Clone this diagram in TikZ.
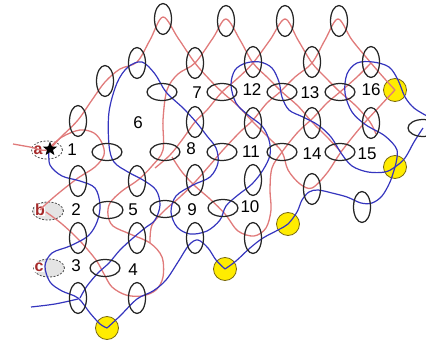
\documentclass[tikz,border=0pt]{standalone}
\usepackage{fontspec}
\setmainfont{Liberation Sans}
\usetikzlibrary{shapes.geometric}
\definecolor{thread}{HTML}{E07A7A}
\definecolor{newthread}{HTML}{3535BE}
\definecolor{bead}{HTML}{262626}
\definecolor{gold}{HTML}{FFEC00}
\definecolor{goldline}{HTML}{7A6A10}
\definecolor{tag}{HTML}{A52A2A}
\definecolor{shade}{HTML}{E4E4E4}
\tikzset{
  vbead/.style={ellipse, draw=bead, line width=1.25pt, minimum width=17pt, minimum height=31pt, inner sep=0pt},
  hbead/.style={ellipse, draw=bead, line width=1.25pt, minimum width=30pt, minimum height=17pt, inner sep=0pt},
  ybead/.style={circle, draw=goldline, fill=gold, line width=0.8pt, minimum size=23pt, inner sep=0pt},
  slot/.style={ellipse, draw=bead!80, dash pattern=on 2pt off 1.5pt, line width=0.8pt, fill=shade, minimum width=31pt, minimum height=18pt, inner sep=0pt},
  rline/.style={draw=thread, line width=1.3pt},
  bline/.style={draw=newthread, line width=1.2pt},
  num/.style={text=black, font=\fontsize{17}{19}\selectfont, inner sep=0pt},
  tagl/.style={text=tag, font=\bfseries\fontsize{16}{18}\selectfont, inner sep=0.6pt, fill=white}
}

\begin{document}
\begin{tikzpicture}[x=1pt, y=-1pt]
  \useasboundingbox (0,0) rectangle (426,342);

  % empty slots
  \node[slot, fill=white] (sa) at (47,150) {};
  \node[slot] (sb) at (48,211) {};
  \node[slot] (sc) at (49,268) {};
  \node[tagl] (la) at (38,150) {a};
  \node[tagl] (lb) at (40,210) {b};
  \node[tagl] (lc) at (39,267) {c};

  % yellow beads
  \node[ybead] (y1) at (395,90) {};
  \node[ybead] (y2) at (395,167) {};
  \node[ybead] (y3) at (288,224) {};
  \node[ybead] (y4) at (225,269) {};
  \node[ybead] (y5) at (107,328) {};

  % old thread
  \draw[rline] plot[smooth, tension=0.55] coordinates {(13,144) (30,147) (47,150) (62,136) (78,120) (92,100) (105,82) (120,69) (137,62) (150,40) (163,17) (178,38) (195,63) (210,80) (222,92) (238,106) (253,122) (268,137) (282,152) (288,170) (300,184) (312,188) (327,173) (341,152) (360,128) (380,106) (y1.center)};
  \draw[rline] plot[smooth, tension=0.55] coordinates {(46,212) (62,224) (80,241) (96,260) (104,274) (112,287) (126,295) (142,296) (156,290) (163,277) (162,257) (150,243) (130,234) (113,226) (108,215) (110,203) (122,191) (138,180) (152,166) (163,150) (163,120) (167,90) (178,74) (195,63) (213,38) (226,19) (240,40) (253,63) (268,78) (282,92) (298,106) (312,122) (327,137) (341,152)};
  \draw[rline] plot[smooth, tension=0.55] coordinates {(155,168) (170,155) (182,140) (195,122) (207,110) (222,92) (238,78) (253,63) (270,40) (285,19) (298,40) (312,63) (326,78) (340,92) (356,106) (370,122) (376,134)};
  \draw[rline] plot[smooth, tension=0.55] coordinates {(150,243) (152,225) (165,210) (180,197) (195,182) (210,165) (223,150) (240,132) (253,120) (267,103) (280,92) (295,77) (312,63) (325,40) (338,19) (352,40) (371,63) (384,78) (y1.center)};
  \draw[rline] plot[smooth, tension=0.55] coordinates {(371,63) (357,77) (340,92) (327,103) (313,118) (298,132) (282,152) (272,168) (270,190) (271,210) (266,228) (254,236) (238,231) (225,214) (210,199) (195,186) (182,172) (172,157)};
  \draw[rline] plot[smooth, tension=0.55] coordinates {(47,150) (62,137) (80,130) (94,133) (102,143) (104,155) (95,167) (78,178) (60,192) (46,204) (40,210)};

  % new thread
  \draw[bline] plot[smooth, tension=0.55] coordinates {(423,128) (414,142) (405,158) (y2.center) (385,172) (368,172) (352,166) (341,153) (331,137) (318,125) (303,117) (289,110) (282,97) (279,82) (272,68) (260,62) (246,63) (235,70) (231,85) (236,103) (248,115) (262,126) (269,140) (270,155) (263,170) (252,184) (238,195) (226,206) (220,220) (207,231) (190,234) (177,227) (171,212) (176,196) (193,185) (210,177) (218,163) (216,148) (207,136) (196,122) (183,108) (166,92) (155,74) (142,62) (128,67) (117,83) (109,112) (109,145) (114,162) (128,172) (143,180) (156,190) (160,205) (155,220) (145,228) (133,238) (120,250) (109,263) (98,273) (87,286) (80,298)};
  \draw[bline] plot[smooth, tension=0.55] coordinates {(49,150) (50,165) (62,176) (80,181) (95,188) (100,205) (97,222) (88,236) (70,246) (52,253) (45,266) (50,282) (62,291) (78,298) (90,313) (100,324) (y5.center)};
  \draw[bline] plot[smooth, tension=0.55] coordinates {(31,307) (55,304) (78,299)};
  \draw[bline] plot[smooth, tension=0.55] coordinates {(y5.center) (120,316) (137,299) (153,291) (166,280) (178,262) (189,245) (198,240) (208,248) (216,260) (y4.center)};
  \draw[bline] plot[smooth, tension=0.55] coordinates {(y4.center) (236,261) (250,248) (263,238) (278,230) (y3.center) (297,212) (302,200) (309,192) (318,190) (332,193) (347,197) (361,203) (372,203) (382,196) (390,182) (y2.center)};
  \draw[bline] plot[smooth, tension=0.55] coordinates {(y2.center) (397,150) (385,136) (366,125) (352,112) (345,93) (347,74) (357,63) (373,62) (389,67) (398,80) (405,97) (414,108) (427,116)};

  % beads
  \node[vbead] (vt1) at (163,19) {};
  \node[vbead] (vt2) at (226,21) {};
  \node[vbead] (vt3) at (285,21) {};
  \node[vbead] (vt4) at (339,21) {};
  \node[vbead] (ve1) at (105,81) {};
  \node[vbead] (va1) at (137,63) {};
  \node[vbead] (va2) at (195,63) {};
  \node[vbead] (va3) at (253,62) {};
  \node[vbead] (va4) at (312,62) {};
  \node[vbead] (va5) at (371,62) {};
  \node[hbead] (ha1) at (162,92) {};
  \node[hbead] (ha2) at (222,92) {};
  \node[hbead] (ha3) at (282,92) {};
  \node[hbead] (ha4) at (340,92) {};
  \node[vbead] (vb1) at (78,121) {};
  \node[vbead] (vb2) at (195,122) {};
  \node[vbead] (vb3) at (253,123) {};
  \node[vbead] (vb4) at (312,123) {};
  \node[vbead] (vb5) at (371,123) {};
  \node[hbead] (hp) at (423,128) {};
  \node[hbead] (hb1) at (107,152) {};
  \node[hbead] (hb2) at (165,152) {};
  \node[hbead] (hb3) at (222,152) {};
  \node[hbead] (hb4) at (282,152) {};
  \node[hbead] (hb5) at (340,152) {};
  \node[vbead] (vc1) at (78,181) {};
  \node[vbead] (vc2) at (137,181) {};
  \node[vbead] (vc3) at (195,180) {};
  \node[vbead] (vc4) at (253,180) {};
  \node[vbead] (vc5) at (312,189) {};
  \node[vbead] (vx1) at (362,207) {};
  \node[hbead] (hc1) at (108,210) {};
  \node[hbead] (hc2) at (165,209) {};
  \node[hbead] (hc3) at (223,208) {};
  \node[vbead] (vd1) at (78,238) {};
  \node[vbead] (vd2) at (137,238) {};
  \node[vbead] (vd3) at (195,238) {};
  \node[vbead] (vd4) at (253,238) {};
  \node[hbead] (hd1) at (105,268) {};
  \node[vbead] (vf1) at (78,298) {};
  \node[vbead] (vf2) at (137,298) {};

  % start mark
  \node[star, star points=5, star point ratio=2.4, fill=black, minimum size=15pt, inner sep=0pt] (st) at (50,149) {};

  % numbers
  \node[num] (n1) at (72,150) {1};
  \node[num] (n2) at (76,210) {2};
  \node[num] (n3) at (76,266) {3};
  \node[num] (n4) at (133,270) {4};
  \node[num] (n5) at (133,210) {5};
  \node[num] (n6) at (138,123) {6};
  \node[num] (n7) at (197,93) {7};
  \node[num] (n8) at (191,149) {8};
  \node[num] (n9) at (192,210) {9};
  \node[num] (n10) at (250,207) {10};
  \node[num] (n11) at (251,152) {11};
  \node[num] (n12) at (252,90) {12};
  \node[num] (n13) at (310,93) {13};
  \node[num] (n14) at (312,154) {14};
  \node[num] (n15) at (367,154) {15};
  \node[num] (n16) at (371,90) {16};
\end{tikzpicture}
\end{document}
